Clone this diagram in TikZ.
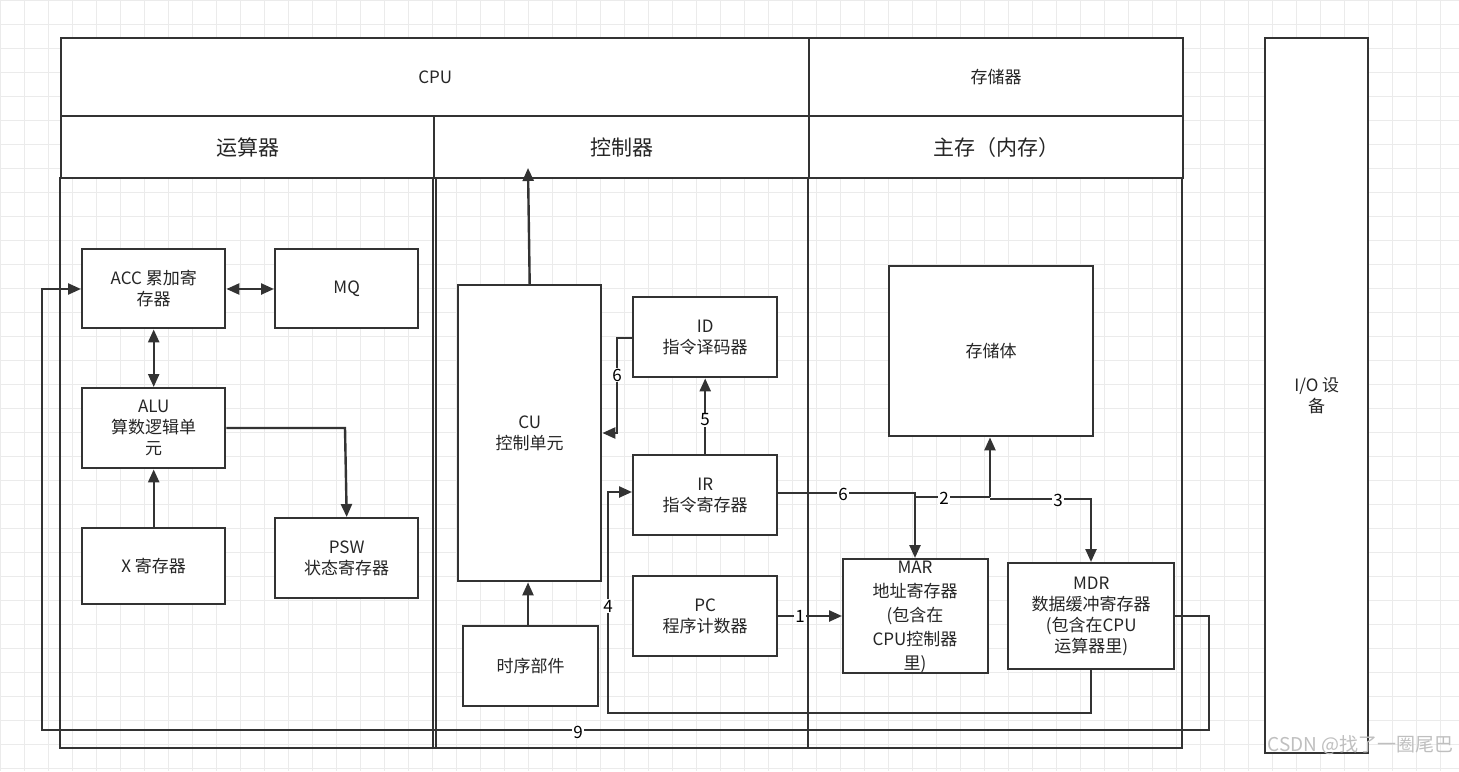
\documentclass[tikz,border=0pt]{standalone}
\usepackage{fontspec}
\setmainfont{Noto Sans CJK SC}
\usetikzlibrary{arrows.meta}
\begin{document}
\begin{tikzpicture}[x=1pt,y=-1pt,
  box/.style={draw=black!80,line width=2.4pt,fill=white,inner sep=0pt},
  lbl/.style={font=\fontsize{17}{21}\selectfont,align=center,text=black!85},
  ln/.style={draw=black!80,line width=2.4pt},
  arr/.style={ln,-{Triangle[length=13pt,width=11pt]}},
  darr/.style={ln,{Triangle[length=13pt,width=11pt]}-{Triangle[length=13pt,width=11pt]}},
  num/.style={fill=white,inner sep=1pt,font=\fontsize{17}{19}\selectfont}]
\useasboundingbox (0,0) rectangle (1459,771);
\fill[white] (0,0) rectangle (1459,771);
\foreach \i in {0,24,...,1459} \draw[black!8,line width=0.8pt] (\i,0) -- (\i,771);
\foreach \i in {0,24,...,771} \draw[black!8,line width=0.8pt] (0,\i) -- (1459,\i);
% frame
\node[box,lbl,minimum width=748pt,minimum height=78pt,anchor=north west] (cpu) at (60,37) {CPU};
\node[box,lbl,minimum width=374pt,minimum height=78pt,anchor=north west] (mem) at (808,37) {存储器};
\node[box,lbl,font=\fontsize{21}{24}\selectfont,minimum width=373pt,minimum height=62pt,anchor=north west] (ys) at (60,115) {运算器};
\node[box,lbl,font=\fontsize{21}{24}\selectfont,minimum width=375pt,minimum height=62pt,anchor=north west] (kz) at (433,115) {控制器};
\node[box,lbl,font=\fontsize{21}{24}\selectfont,minimum width=374pt,minimum height=62pt,anchor=north west] (zc) at (808,115) {主存（内存）};
\draw[ln] (60,177) -- (60,748) -- (1182,748) -- (1182,177);
\draw[ln] (433,177) -- (433,748);
\draw[ln] (436,177) -- (436,748);
\draw[ln] (808,177) -- (808,748);
\node[box,lbl,minimum width=103pt,minimum height=715pt,anchor=north west] (io) at (1264,37) {I/O 设\\备};
% boxes
\node[box,lbl,minimum width=143pt,minimum height=79pt,anchor=north west] (acc) at (81,248) {ACC 累加寄\\存器};
\node[box,lbl,minimum width=143pt,minimum height=79pt,anchor=north west] (mq) at (274,248) {MQ};
\node[box,lbl,minimum width=143pt,minimum height=80pt,anchor=north west] (alu) at (81,387) {ALU\\算数逻辑单\\元};
\node[box,lbl,minimum width=143pt,minimum height=76pt,anchor=north west] (x) at (81,527) {X 寄存器};
\node[box,lbl,minimum width=143pt,minimum height=80pt,anchor=north west] (psw) at (274,517) {PSW\\状态寄存器};
\node[box,lbl,minimum width=143pt,minimum height=296pt,anchor=north west] (cu) at (457,284) {CU\\控制单元};
\node[box,lbl,minimum width=135pt,minimum height=80pt,anchor=north west] (sx) at (462,625) {时序部件};
\node[box,lbl,minimum width=144pt,minimum height=80pt,anchor=north west] (id) at (632,296) {ID\\指令译码器};
\node[box,lbl,minimum width=144pt,minimum height=80pt,anchor=north west] (ir) at (632,454) {IR\\指令寄存器};
\node[box,lbl,minimum width=144pt,minimum height=80pt,anchor=north west] (pc) at (632,575) {PC\\程序计数器};
\node[box,lbl,minimum width=204pt,minimum height=170pt,anchor=north west] (ccb) at (888,265) {存储体};
\node[box,lbl,minimum width=145pt,minimum height=114pt,anchor=north west] (mar) at (842,558) {};
\node[lbl,font=\fontsize{17}{24}\selectfont] at (915,617) {MAR\\地址寄存器\\ (包含在\\CPU控制器\\里)};
\node[box,lbl,minimum width=166pt,minimum height=106pt,anchor=north west] (mdr) at (1007,562) {MDR\\数据缓冲寄存器\\(包含在CPU\\运算器里)};
% connectors
\draw[darr] (acc.east |- 0,289) -- (mq.west |- 0,289);
\draw[darr] (acc.south) -- (alu.north);
\draw[arr] (x.north) -- (alu.south);
\draw[arr] (alu.east |- 0,428) -- (345,428) -- (psw.north);
\coordinate (cutop) at (528,168);
\draw[arr] (cu.north) -- (cutop);
\draw[arr] (sx.north -| 528,0) -- (cu.south -| 528,0);
\draw[arr] (id.west |- 0,338) -- (617,338) -- (617,433) -- (cu.east |- 0,433);
\node[num] at (617,375) {6};
\draw[arr] (ir.north) -- node[num,pos=0.45]{5} (id.south);
\draw[arr] (ir.east |- 0,493) -- (915,493) -- (mar.north -| 915,0);
\node[num] at (843,494) {6};
\draw[ln] (915,497) -- (990,497);
\node[num] at (944,498) {2};
\draw[arr] (990,497) -- (ccb.south -| 990,0);
\draw[arr] (990,499) -- (1091,499) -- (mdr.north -| 1091,0);
\node[num] at (1058,500) {3};
\draw[arr] (pc.east |- 0,616) -- (mar.west |- 0,616);
\node[num] at (800,616) {1};
\draw[arr] (mdr.south -| 1091,0) -- (1091,713) -- (608,713) -- (608,492) -- (ir.west |- 0,492);
\node[num] at (608,606) {4};
\draw[arr] (mdr.east |- 0,616) -- (1209,616) -- (1209,730) -- (42,730) -- (42,289) -- (acc.west |- 0,289);
\node[num] at (578,732) {9};
\node[text=black!25,font=\fontsize{19}{21}\selectfont,anchor=east] (wm) at (1457,745) {CSDN @找了一圈尾巴};
\end{tikzpicture}
\end{document}
